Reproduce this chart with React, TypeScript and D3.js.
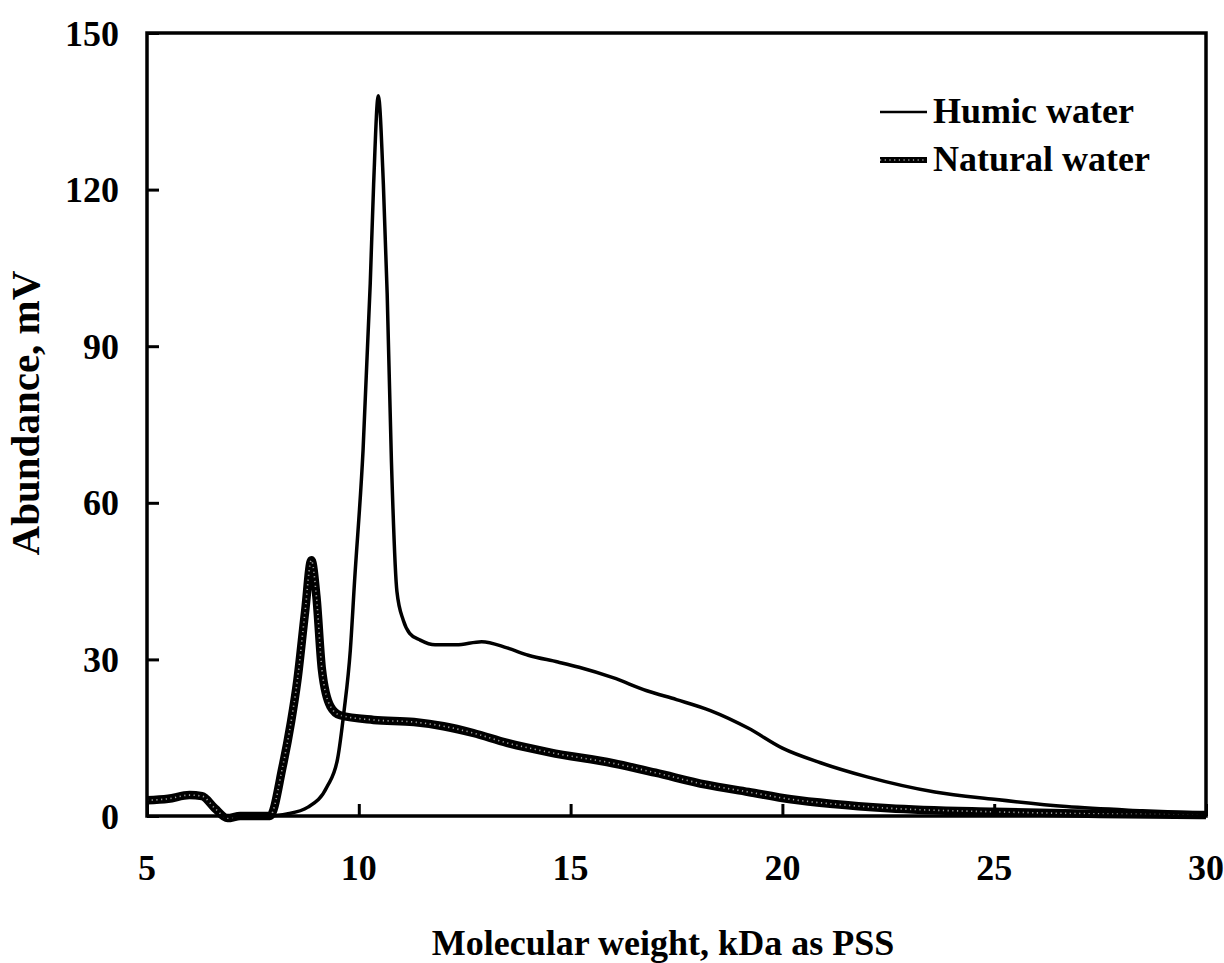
import * as d3 from "d3";
import { useEffect, useRef } from "react";

type Pt = [number, number];

// molecular weight (kDa) vs abundance (mV)
const humicWater: Pt[] = [
  [7.8, 0], [8.3, 0.4], [8.8, 1.7], [9.25, 5.6], [9.5, 11], [9.65, 20],
  [9.8, 31.8], [9.9, 45], [10.1, 70], [10.27, 102], [10.35, 121], [10.46, 138],
  [10.58, 121], [10.67, 100], [10.77, 68], [10.9, 43], [11.05, 37.5],
  [11.2, 35], [11.45, 33.7], [11.8, 32.8], [12.3, 32.8], [12.9, 33.4], [13.5, 32.2],
  [14.0, 30.8], [14.7, 29.5], [15.2, 28.5], [16.0, 26.5], [16.8, 24], [17.5, 22.3],
  [18.3, 20.2], [19.2, 16.8], [20.0, 13], [20.9, 10.2], [22.0, 7.5], [23.6, 4.6],
  [25, 3.2], [26.7, 1.8], [28.5, 1], [30, 0.5],
];

const naturalWater: Pt[] = [
  [5, 3], [5.5, 3.3], [6.0, 4], [6.3, 3.8], [6.6, 1.5], [6.9, -0.4], [7.2, 0],
  [7.9, 0], [8.2, 9.4], [8.4, 18], [8.55, 26], [8.73, 39], [8.88, 49], [9.0, 42],
  [9.13, 28], [9.33, 21], [9.56, 19.3], [10.35, 18.4], [11.3, 18], [12.0, 17.2],
  [12.7, 15.9], [13.5, 14], [14.5, 12.2], [16.0, 10.1], [17.0, 8.3], [18.2, 6],
  [19.2, 4.6], [20.2, 3.2], [21.2, 2.3], [22.5, 1.5], [25, 0.8], [27.5, 0.4], [30, 0.2],
];

const xTicks = [5, 10, 15, 20, 25, 30];
const yTicks = [0, 30, 60, 90, 120, 150];
const seriesNames = ["Humic water", "Natural water"];

const W = 1224;
const H = 963;
const plot = { left: 147, right: 1206, top: 33, bottom: 816 };
const font = "'Liberation Serif', 'Times New Roman', serif";

export default function App() {
  const svgRef = useRef<SVGSVGElement | null>(null);

  useEffect(() => {
    if (!svgRef.current) return;
    const svg = d3.select(svgRef.current);
    svg.selectAll("*").remove();

    const x = d3.scaleLinear().domain([5, 30]).range([plot.left, plot.right]);
    const y = d3.scaleLinear().domain([0, 150]).range([plot.bottom, plot.top]);

    const line = d3
      .line<Pt>()
      .x((d) => x(d[0]))
      .y((d) => y(d[1]))
      .curve(d3.curveMonotoneX);

    svg.append("rect").attr("width", W).attr("height", H).attr("fill", "#fff");

    // data lines
    svg
      .append("path")
      .attr("d", line(naturalWater))
      .attr("fill", "none")
      .attr("stroke", "#000")
      .attr("stroke-width", 8.5)
      .attr("stroke-linejoin", "round");
    svg
      .append("path")
      .attr("d", line(naturalWater))
      .attr("fill", "none")
      .attr("stroke", "#a0a0a0")
      .attr("stroke-width", 1.6)
      .attr("stroke-dasharray", "1.2 3.5");
    svg
      .append("path")
      .attr("d", line(humicWater))
      .attr("fill", "none")
      .attr("stroke", "#000")
      .attr("stroke-width", 3.5)
      .attr("stroke-linejoin", "round");

    // frame
    svg
      .append("rect")
      .attr("x", plot.left)
      .attr("y", plot.top)
      .attr("width", plot.right - plot.left)
      .attr("height", plot.bottom - plot.top)
      .attr("fill", "none")
      .attr("stroke", "#000")
      .attr("stroke-width", 3.5);

    // axes with inward ticks
    const xAxis = svg
      .append("g")
      .attr("transform", `translate(0, ${plot.bottom})`)
      .call(d3.axisTop(x).tickValues(xTicks).tickSize(12).tickFormat(() => ""));
    xAxis.select(".domain").remove();
    xAxis.selectAll("line").attr("stroke-width", 3);

    const yAxis = svg
      .append("g")
      .attr("transform", `translate(${plot.left}, 0)`)
      .call(d3.axisRight(y).tickValues(yTicks).tickSize(12).tickFormat(() => ""));
    yAxis.select(".domain").remove();
    yAxis.selectAll("line").attr("stroke-width", 3);

    const labels = svg
      .append("g")
      .attr("font-family", font)
      .attr("font-weight", "bold")
      .attr("font-size", 36)
      .attr("fill", "#000");

    labels
      .selectAll("text.xt")
      .data(xTicks)
      .join("text")
      .attr("class", "xt")
      .attr("x", (d) => x(d))
      .attr("y", 880)
      .attr("text-anchor", "middle")
      .text((d) => d);

    labels
      .selectAll("text.yt")
      .data(yTicks)
      .join("text")
      .attr("class", "yt")
      .attr("x", 119)
      .attr("y", (d) => y(d) + 12.5)
      .attr("text-anchor", "end")
      .text((d) => d);

    labels
      .append("text")
      .attr("x", 663)
      .attr("y", 955)
      .attr("text-anchor", "middle")
      .text("Molecular weight, kDa as PSS");

    labels
      .append("text")
      .attr("transform", `translate(39, 413) rotate(-90)`)
      .attr("text-anchor", "middle")
      .attr("font-size", 41)
      .text("Abundance, mV");

    // legend
    const legend = svg.append("g");
    const legendY = [112, 160];
    seriesNames.forEach((name, i) => {
      legend
        .append("line")
        .attr("x1", 880)
        .attr("x2", 927)
        .attr("y1", legendY[i])
        .attr("y2", legendY[i])
        .attr("stroke", "#000")
        .attr("stroke-width", i === 0 ? 2.5 : 6);
      if (i === 1) {
        legend
          .append("line")
          .attr("x1", 880)
          .attr("x2", 927)
          .attr("y1", legendY[i])
          .attr("y2", legendY[i])
          .attr("stroke", "#a0a0a0")
          .attr("stroke-width", 1.4)
          .attr("stroke-dasharray", "1.2 3.5");
      }
      legend
        .append("text")
        .attr("x", 933)
        .attr("y", legendY[i] + 11)
        .attr("font-family", font)
        .attr("font-weight", "bold")
        .attr("font-size", 36)
        .text(name);
    });
  }, []);

  return (
    <svg
      ref={svgRef}
      width={W}
      height={H}
      style={{ position: "absolute", left: 0, top: 0, display: "block" }}
    />
  );
}
